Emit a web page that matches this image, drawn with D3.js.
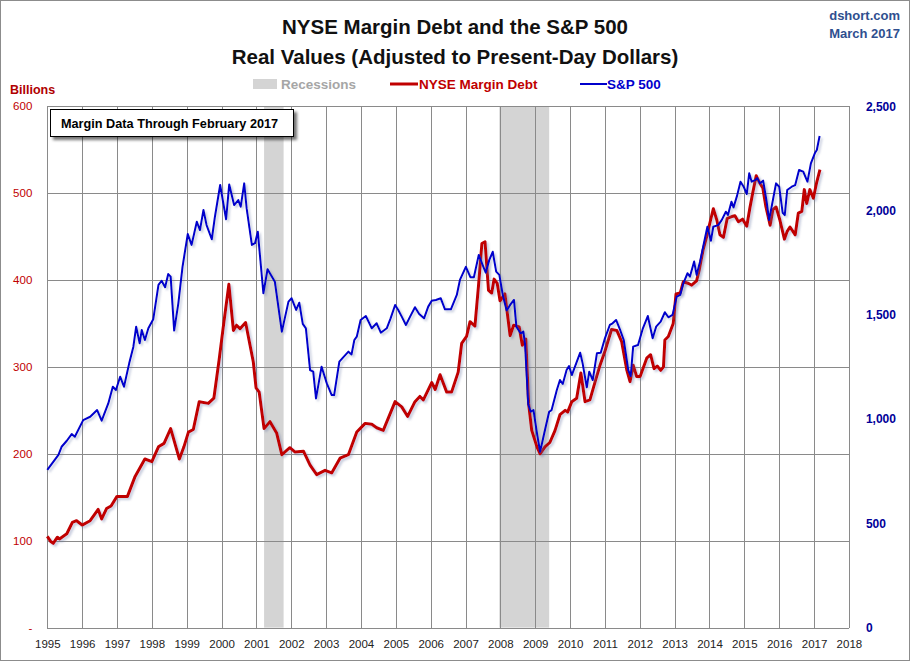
<!DOCTYPE html>
<html lang="en">
<head>
  <meta charset="UTF-8" />
  <title>NYSE Margin Debt and the S&P 500</title>
  <script src="https://d3js.org/d3.v7.min.js"></script>
  <style>
    body { margin: 0; background: #fff; font-family: "Liberation Sans", Arial, sans-serif; }
    svg { display: block; }
    .grid line { stroke: #8a8a8a; stroke-width: 1; shape-rendering: crispEdges; }
    .grid path { display: none; }
  </style>
</head>
<body>
  <svg id="chart" width="910" height="661"></svg>
  <script>
    // --- data (decimal years) ---
    const years = d3.range(1995, 2019);
    const leftTicks = [0, 100, 200, 300, 400, 500, 600];
    const rightTicks = [0, 500, 1000, 1500, 2000, 2500];
    const recessions = [[2001.22, 2001.78], [2007.97, 2009.40]];

    // NYSE margin debt, real billions
    const mdDates = [1995.00,1995.10,1995.17,1995.29,1995.35,1995.56,1995.72,1995.84,1996.00,1996.23,1996.46,1996.56,1996.70,1996.83,
      1997.00,1997.30,1997.52,1997.80,1998.00,1998.19,1998.35,1998.54,1998.79,1998.92,1999.05,1999.19,1999.36,1999.62,1999.78,1999.93,
      2000.05,2000.21,2000.34,2000.43,2000.53,2000.69,2000.91,2000.99,2001.08,2001.22,2001.39,2001.58,2001.73,2001.96,2002.11,2002.35,
      2002.54,2002.73,2002.97,2003.16,2003.40,2003.64,2003.88,2004.12,2004.31,2004.45,2004.64,2004.98,2005.17,2005.34,2005.55,2005.69,
      2005.79,2006.03,2006.13,2006.27,2006.46,2006.60,2006.79,2006.89,2007.03,2007.13,2007.27,2007.37,2007.47,2007.56,2007.66,2007.75,
      2007.82,2007.91,2007.99,2008.13,2008.28,2008.38,2008.54,2008.63,2008.73,2008.81,2008.90,2009.05,2009.14,2009.28,2009.42,2009.57,
      2009.71,2009.86,2009.93,2010.05,2010.19,2010.31,2010.43,2010.57,2010.72,2010.86,2011.00,2011.19,2011.34,2011.48,2011.63,2011.72,
      2011.81,2011.91,2012.01,2012.20,2012.31,2012.41,2012.50,2012.60,2012.68,2012.72,2012.82,2012.96,2013.04,2013.16,2013.25,2013.40,
      2013.49,2013.63,2013.71,2013.82,2013.92,2014.02,2014.11,2014.21,2014.30,2014.40,2014.51,2014.64,2014.73,2014.83,2014.95,2015.07,
      2015.16,2015.24,2015.34,2015.45,2015.53,2015.62,2015.74,2015.82,2015.91,2016.02,2016.15,2016.23,2016.31,2016.46,2016.55,2016.65,
      2016.72,2016.79,2016.88,2016.98,2017.08,2017.17];
    const mdValues = [105,99,97,104,102,108,121,123,118,123,136,125,137,140,
      151,151,174,194,191,208,212,229,194,208,225,228,260,258,264,308,
      346,395,342,348,344,351,306,276,271,229,237,224,199,207,202,203,
      187,176,181,178,195,199,225,235,234,230,227,260,254,243,260,266,
      262,282,274,291,271,271,294,327,335,352,347,392,442,444,388,385,
      401,396,376,384,336,348,346,325,332,258,227,208,200,208,213,227,
      245,250,248,260,264,293,260,262,283,302,318,343,342,329,296,283,
      302,289,289,310,314,298,301,296,300,331,335,350,384,385,398,396,
      394,399,412,435,450,467,482,469,452,449,471,473,474,467,470,462,
      483,500,520,511,506,484,463,481,484,469,447,456,461,452,477,479,
      504,488,504,494,513,527];

    // S&P 500, real index
    const spDates = [1995.00,1995.32,1995.41,1995.56,1995.70,1995.79,1996.03,1996.23,1996.43,1996.56,1996.75,1996.88,1996.97,
      1997.09,1997.20,1997.35,1997.47,1997.55,1997.65,1997.71,1997.80,1997.90,1998.04,1998.19,1998.28,1998.38,1998.47,1998.54,
      1998.64,1998.76,1998.88,1999.03,1999.14,1999.29,1999.38,1999.48,1999.57,1999.72,1999.81,1999.96,2000.13,2000.22,2000.36,
      2000.48,2000.55,2000.65,2000.72,2000.87,2000.96,2001.04,2001.20,2001.32,2001.53,2001.73,2001.92,2002.01,2002.14,2002.23,
      2002.33,2002.42,2002.54,2002.63,2002.71,2002.87,2003.02,2003.16,2003.23,2003.38,2003.49,2003.64,2003.73,2003.81,2003.88,
      2003.99,2004.14,2004.31,2004.45,2004.57,2004.74,2004.85,2004.98,2005.07,2005.17,2005.29,2005.41,2005.55,2005.67,2005.81,
      2005.93,2006.03,2006.15,2006.29,2006.41,2006.58,2006.75,2006.84,2007.01,2007.14,2007.24,2007.38,2007.49,2007.58,2007.68,
      2007.78,2007.88,2007.97,2008.07,2008.18,2008.28,2008.39,2008.46,2008.58,2008.66,2008.71,2008.80,2008.87,2008.95,2009.05,
      2009.14,2009.28,2009.40,2009.47,2009.62,2009.71,2009.79,2009.90,2009.97,2010.05,2010.29,2010.36,2010.48,2010.55,2010.65,
      2010.77,2010.88,2011.00,2011.14,2011.22,2011.32,2011.43,2011.54,2011.67,2011.74,2011.81,2011.95,2012.09,2012.23,2012.37,
      2012.47,2012.60,2012.72,2012.82,2012.94,2013.06,2013.16,2013.25,2013.37,2013.44,2013.56,2013.63,2013.73,2013.84,2013.94,
      2014.04,2014.11,2014.25,2014.35,2014.47,2014.53,2014.63,2014.69,2014.79,2014.89,2014.98,2015.07,2015.14,2015.21,2015.31,
      2015.37,2015.45,2015.54,2015.64,2015.71,2015.82,2015.91,2016.00,2016.10,2016.16,2016.23,2016.36,2016.46,2016.57,2016.69,
      2016.81,2016.91,2017.03,2017.08,2017.16];
    const spValues = [756,828,867,896,928,915,995,1011,1043,992,1075,1155,1139,
      1203,1155,1267,1347,1443,1363,1427,1379,1435,1478,1643,1663,1632,1695,1683,
      1424,1555,1730,1887,1835,1946,1906,2002,1930,1862,1970,2122,1958,2125,2026,
      2050,2018,2130,2010,1835,1843,1898,1603,1718,1658,1419,1563,1579,1523,1558,
      1456,1435,1235,1227,1099,1251,1171,1115,1115,1275,1296,1323,1310,1379,1395,
      1475,1494,1435,1459,1414,1435,1483,1547,1523,1491,1451,1491,1536,1504,1483,
      1539,1567,1571,1579,1526,1526,1595,1667,1730,1680,1680,1787,1739,1702,1762,
      1802,1707,1691,1595,1520,1547,1571,1443,1411,1419,1355,1070,1035,1043,932,
      843,947,1035,1043,1139,1187,1168,1235,1254,1211,1318,1267,1152,1227,1187,
      1315,1318,1387,1451,1459,1475,1430,1379,1235,1206,1347,1355,1435,1494,1387,
      1443,1467,1512,1488,1499,1587,1595,1651,1699,1683,1755,1691,1755,1843,1922,
      1855,1922,1930,1954,1994,1978,2042,2015,2070,2138,2114,2079,2178,2138,2146,
      2155,2130,2143,2042,1954,2050,2130,2114,1989,1978,2098,2114,2122,2194,2186,
      2138,2226,2277,2290,2357];

    const W = 910, H = 661;
    const pLeft = 47.3, pRight = 848.9, pTop = 106.2, pBottom = 627.6;

    const svg = d3.select("#chart");
    const x = d3.scaleLinear().domain([1995, 2018]).range([pLeft, pRight]);
    const yL = d3.scaleLinear().domain([0, 600]).range([pBottom, pTop]);
    const yR = d3.scaleLinear().domain([0, 2500]).range([pBottom, pTop]);

    // filters for the soft shadows
    const defs = svg.append("defs");
    const f = defs.append("filter").attr("id", "lineShadow")
      .attr("x", "-5%").attr("y", "-5%").attr("width", "110%").attr("height", "110%");
    f.append("feDropShadow").attr("dx", 2).attr("dy", 2).attr("stdDeviation", 1.2)
      .attr("flood-color", "#6070a0").attr("flood-opacity", 0.35);
    const fb = defs.append("filter").attr("id", "boxShadow")
      .attr("x", "-10%").attr("y", "-30%").attr("width", "120%").attr("height", "160%");
    fb.append("feDropShadow").attr("dx", 3).attr("dy", 3).attr("stdDeviation", 1.5)
      .attr("flood-color", "#000").attr("flood-opacity", 0.55);

    // outer frame
    svg.append("rect").attr("x", 0.5).attr("y", 0.5).attr("width", W - 1).attr("height", H - 1)
      .attr("fill", "#fff").attr("stroke", "#8c8c8c");

    // recession bands
    svg.append("g").selectAll("rect").data(recessions).join("rect")
      .attr("x", d => x(d[0])).attr("width", d => x(d[1]) - x(d[0]))
      .attr("y", pTop).attr("height", pBottom - pTop)
      .attr("fill", "#d4d4d4");

    // grid
    svg.append("g").attr("class", "grid")
      .attr("transform", `translate(0,${pBottom})`)
      .call(d3.axisBottom(x).tickValues(years).tickSize(-(pBottom - pTop)).tickFormat(""));
    svg.append("g").attr("class", "grid")
      .attr("transform", `translate(${pLeft},0)`)
      .call(d3.axisLeft(yL).tickValues(leftTicks).tickSize(-(pRight - pLeft)).tickFormat(""));

    const font = "Liberation Sans, Arial, sans-serif";

    // year labels
    const xAxis = svg.append("g").attr("transform", `translate(0,${pBottom})`)
      .call(d3.axisBottom(x).tickValues(years).tickSize(0).tickPadding(12).tickFormat(d3.format("d")));
    xAxis.select(".domain").remove();
    xAxis.selectAll("text").attr("font-family", font).attr("font-size", 11.5).attr("fill", "#222");

    // left axis labels
    const yAxisL = svg.append("g").attr("transform", `translate(${pLeft},0)`)
      .call(d3.axisLeft(yL).tickValues(leftTicks).tickSize(0).tickPadding(15)
        .tickFormat(d => d === 0 ? "-" : d));
    yAxisL.select(".domain").remove();
    yAxisL.selectAll("text").attr("font-family", font).attr("font-size", 11.5).attr("fill", "#c00000");

    // right axis labels
    const yAxisR = svg.append("g").attr("transform", `translate(${pRight},0)`)
      .call(d3.axisRight(yR).tickValues(rightTicks).tickSize(0).tickPadding(17)
        .tickFormat(d3.format(",")));
    yAxisR.select(".domain").remove();
    yAxisR.selectAll("text").attr("font-family", font)
      .attr("font-size", 12).attr("font-weight", "bold").attr("fill", "#000099");

    // series
    const mdLine = d3.line().x(d => x(d[0])).y(d => yL(d[1]));
    const spLine = d3.line().x(d => x(d[0])).y(d => yR(d[1]));
    svg.append("path").datum(d3.zip(mdDates, mdValues))
      .attr("d", mdLine).attr("fill", "none").attr("stroke", "#c00000")
      .attr("stroke-width", 3).attr("stroke-linejoin", "round").attr("filter", "url(#lineShadow)");
    svg.append("path").datum(d3.zip(spDates, spValues))
      .attr("d", spLine).attr("fill", "none").attr("stroke", "#0000cc")
      .attr("stroke-width", 2).attr("stroke-linejoin", "round").attr("filter", "url(#lineShadow)");

    // titles
    svg.append("text").attr("x", 455).attr("y", 34).attr("text-anchor", "middle")
      .attr("font-family", font).attr("font-size", 20.5).attr("font-weight", "bold").attr("fill", "#111")
      .text("NYSE Margin Debt and the S&P 500");
    svg.append("text").attr("x", 455).attr("y", 64).attr("text-anchor", "middle")
      .attr("font-family", font).attr("font-size", 20.5).attr("font-weight", "bold").attr("fill", "#111")
      .text("Real Values (Adjusted to Present-Day Dollars)");
    svg.append("text").attr("x", 900).attr("y", 20).attr("text-anchor", "end")
      .attr("font-family", font).attr("font-size", 13).attr("font-weight", "bold").attr("fill", "#2f4f8f")
      .text("dshort.com");
    svg.append("text").attr("x", 900).attr("y", 38).attr("text-anchor", "end")
      .attr("font-family", font).attr("font-size", 13).attr("font-weight", "bold").attr("fill", "#2f4f8f")
      .text("March 2017");

    // legend
    const lg = svg.append("g").attr("font-family", font).attr("font-size", 13.5).attr("font-weight", "bold");
    lg.append("rect").attr("x", 253).attr("y", 79).attr("width", 24).attr("height", 10).attr("fill", "#d4d4d4");
    lg.append("text").attr("x", 281).attr("y", 89).attr("fill", "#a6a6a6").text("Recessions");
    lg.append("line").attr("x1", 390).attr("x2", 418).attr("y1", 84).attr("y2", 84)
      .attr("stroke", "#c00000").attr("stroke-width", 3);
    lg.append("text").attr("x", 419).attr("y", 89).attr("fill", "#c00000").text("NYSE Margin Debt");
    lg.append("line").attr("x1", 580).attr("x2", 607).attr("y1", 84).attr("y2", 84)
      .attr("stroke", "#0000cc").attr("stroke-width", 2);
    lg.append("text").attr("x", 607).attr("y", 89).attr("fill", "#0000cc").text("S&P 500");

    svg.append("text").attr("x", 10).attr("y", 94).attr("font-family", font)
      .attr("font-size", 12.5).attr("font-weight", "bold").attr("fill", "#b00000").text("Billions");

    // note box
    svg.append("rect").attr("x", 50.5).attr("y", 109.5).attr("width", 243).attr("height", 27)
      .attr("fill", "#fff").attr("stroke", "#000").attr("filter", "url(#boxShadow)");
    svg.append("text").attr("x", 61).attr("y", 128).attr("font-family", font)
      .attr("font-size", 12.7).attr("font-weight", "bold").attr("fill", "#000")
      .text("Margin Data Through February 2017");
  </script>
</body>
</html>
